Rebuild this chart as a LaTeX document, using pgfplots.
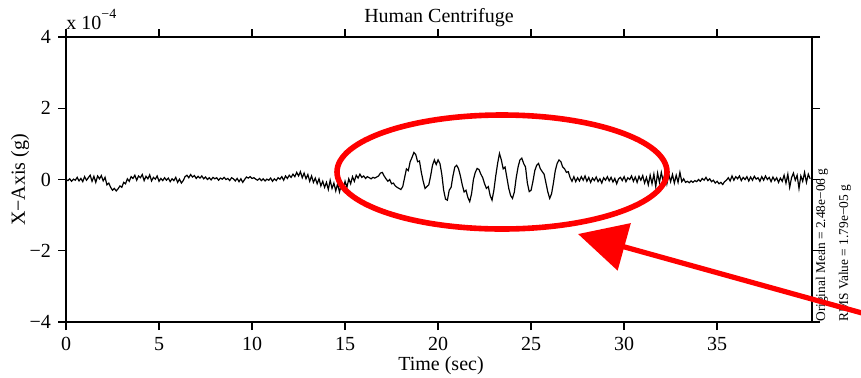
\documentclass[border=0pt]{standalone}
\usepackage{fontspec}
\setmainfont{Liberation Serif}
\usepackage{pgfplots}
\pgfplotsset{compat=1.18}
\usetikzlibrary{arrows.meta}
\begin{document}
\begin{tikzpicture}
\begin{axis}[
 at={(0,0)}, anchor=south west,
 scale only axis, width=373pt, height=142.5pt,
 xmin=0, xmax=40.1, ymin=-4, ymax=4,
 xtick={0,5,...,35}, xticklabels={0,5,10,15,20,25,30,35},
 ytick={-4,-2,0,2,4}, yticklabels={−4,−2,0,2,4},
 minor tick num=0,
 tick align=outside, major tick length=4pt,
 axis line style={line width=0.7pt},
 every tick/.style={line width=0.7pt, black},
 tick label style={font=\fontsize{10}{12}\selectfont},
 clip=false,
]
\addplot[black, line width=0.6pt] coordinates {
(0.0,0.00)(0.1,-0.03)(0.2,0.02)(0.3,-0.05)(0.4,0.01)(0.5,-0.02)(0.6,0.06)(0.7,-0.04)(0.8,0.03)(0.9,-0.06)
(1.0,0.08)(1.1,-0.02)(1.2,0.05)(1.3,0.12)(1.4,-0.05)(1.5,0.09)(1.6,-0.08)(1.7,0.10)(1.8,0.02)(1.9,0.11)
(2.0,-0.04)(2.1,0.06)(2.2,-0.15)(2.3,-0.10)(2.4,-0.22)(2.5,-0.30)(2.6,-0.25)(2.7,-0.32)(2.8,-0.26)(2.9,-0.18)
(3.0,-0.22)(3.1,-0.08)(3.2,-0.12)(3.3,0.02)(3.4,-0.05)(3.5,0.08)(3.6,0.03)(3.7,0.12)(3.8,-0.02)(3.9,0.10)
(4.0,0.05)(4.1,0.14)(4.2,-0.03)(4.3,0.09)(4.4,0.02)(4.5,0.13)(4.6,-0.04)(4.7,0.06)(4.8,0.01)(4.9,0.10)
(5.0,-0.05)(5.1,0.03)(5.2,-0.03)(5.3,0.05)(5.4,-0.02)(5.5,0.04)(5.6,-0.06)(5.7,0.02)(5.8,-0.03)(5.9,0.06)
(6.0,-0.08)(6.1,0.01)(6.2,-0.10)(6.3,-0.03)(6.4,0.08)(6.5,0.12)(6.6,0.05)(6.7,0.14)(6.8,0.07)(6.9,0.11)
(7.0,0.03)(7.1,0.09)(7.2,0.04)(7.3,0.10)(7.4,0.02)(7.5,0.07)(7.6,0.00)(7.7,0.05)(7.8,-0.01)(7.9,0.06)
(8.0,0.02)(8.1,0.05)(8.2,-0.02)(8.3,0.04)(8.4,0.01)(8.5,0.06)(8.6,0.00)(8.7,0.03)(8.8,-0.03)(8.9,0.05)
(9.0,0.02)(9.1,-0.04)(9.2,0.03)(9.3,-0.06)(9.4,0.02)(9.5,-0.08)(9.6,0.00)(9.7,0.07)(9.8,0.04)(9.9,0.08)
(10.0,0.03)(10.1,0.05)(10.2,0.01)(10.3,-0.02)(10.4,0.03)(10.5,-0.03)(10.6,0.02)(10.7,-0.04)(10.8,0.01)(10.9,-0.02)
(11.0,0.04)(11.1,-0.05)(11.2,0.02)(11.3,-0.03)(11.4,0.05)(11.5,0.01)(11.6,0.08)(11.7,-0.02)(11.8,0.10)(11.9,0.03)
(12.0,0.12)(12.1,0.06)(12.2,0.15)(12.3,0.08)(12.4,0.20)(12.5,0.10)(12.6,0.22)(12.7,0.05)(12.8,0.18)(12.9,0.02)
(13.0,0.14)(13.1,-0.05)(13.2,0.10)(13.3,-0.08)(13.4,0.04)(13.5,-0.12)(13.6,0.02)(13.7,-0.18)(13.8,-0.05)(13.9,-0.22)
(14.0,-0.08)(14.1,-0.28)(14.2,-0.02)(14.3,-0.25)(14.4,-0.10)(14.5,-0.32)(14.6,-0.12)(14.7,-0.35)(14.8,-0.15)(14.9,-0.30)
(15.0,-0.05)(15.1,-0.22)(15.2,0.02)(15.3,-0.12)(15.4,0.08)(15.5,-0.05)(15.6,0.12)(15.7,0.04)(15.8,0.15)(15.9,0.06)
(16.0,0.10)(16.1,0.03)(16.2,0.08)(16.3,0.05)(16.4,0.02)(16.5,0.06)(16.6,0.04)(16.7,0.07)(16.8,0.10)(16.9,0.18)
(17.0,0.20)(17.1,0.10)(17.2,0.02)(17.3,-0.05)(17.4,0.00)(17.5,-0.12)(17.6,-0.10)(17.7,-0.18)(17.8,-0.22)(17.9,-0.25)
(18.0,-0.28)(18.1,-0.20)(18.2,0.05)(18.3,0.30)(18.4,0.25)(18.5,0.50)(18.6,0.62)(18.7,0.76)(18.8,0.70)(18.9,0.50)
(19.0,0.52)(19.1,0.20)(19.2,-0.05)(19.3,-0.25)(19.4,-0.20)(19.5,-0.15)(19.6,0.10)(19.7,0.40)(19.8,0.55)(19.9,0.42)
(20.0,0.55)(20.1,0.45)(20.2,0.15)(20.3,-0.30)(20.4,-0.55)(20.5,-0.58)(20.6,-0.30)(20.7,-0.22)(20.8,0.10)(20.9,0.35)
(21.0,0.40)(21.1,0.30)(21.2,0.10)(21.3,-0.15)(21.4,-0.35)(21.5,-0.30)(21.6,-0.50)(21.7,-0.62)(21.8,-0.40)(21.9,0.00)
(22.0,0.20)(22.1,0.31)(22.2,0.28)(22.3,0.15)(22.4,0.05)(22.5,-0.12)(22.6,-0.25)(22.7,-0.20)(22.8,-0.45)(22.9,-0.58)
(23.0,-0.30)(23.1,0.10)(23.2,0.45)(23.3,0.73)(23.4,0.55)(23.5,0.30)(23.6,0.35)(23.7,0.05)(23.8,-0.25)(23.9,-0.45)
(24.0,-0.53)(24.1,-0.35)(24.2,0.05)(24.3,0.35)(24.4,0.55)(24.5,0.60)(24.6,0.45)(24.7,0.35)(24.8,-0.10)(24.9,-0.34)
(25.0,-0.30)(25.1,-0.05)(25.2,0.25)(25.3,0.40)(25.4,0.45)(25.5,0.30)(25.6,0.22)(25.7,0.15)(25.8,-0.10)(25.9,-0.35)
(26.0,-0.53)(26.1,-0.40)(26.2,-0.10)(26.3,0.25)(26.4,0.45)(26.5,0.55)(26.6,0.50)(26.7,0.35)(26.8,0.30)(26.9,0.20)
(27.0,0.22)(27.1,0.05)(27.2,-0.05)(27.3,0.08)(27.4,-0.06)(27.5,0.05)(27.6,-0.04)(27.7,0.08)(27.8,-0.02)(27.9,0.10)
(28.0,-0.05)(28.1,0.06)(28.2,-0.08)(28.3,0.04)(28.4,-0.03)(28.5,0.07)(28.6,-0.06)(28.7,0.02)(28.8,-0.10)(28.9,0.05)
(29.0,-0.02)(29.1,0.08)(29.2,-0.04)(29.3,0.06)(29.4,-0.07)(29.5,0.03)(29.6,-0.12)(29.7,0.02)(29.8,0.06)(29.9,-0.03)
(30.0,0.08)(30.1,-0.06)(30.2,0.05)(30.3,0.00)(30.4,0.10)(30.5,-0.05)(30.6,0.07)(30.7,-0.08)(30.8,0.09)(30.9,-0.02)
(31.0,0.11)(31.1,-0.10)(31.2,0.06)(31.3,-0.15)(31.4,0.12)(31.5,-0.12)(31.6,0.15)(31.7,-0.20)(31.8,0.18)(31.9,-0.08)
(32.0,0.20)(32.1,-0.05)(32.2,0.18)(32.3,-0.12)(32.4,0.15)(32.5,-0.06)(32.6,0.14)(32.7,-0.10)(32.8,0.12)(32.9,-0.08)
(33.0,0.20)(33.1,-0.06)(33.2,0.02)(33.3,-0.08)(33.4,-0.05)(33.5,-0.09)(33.6,-0.04)(33.7,-0.08)(33.8,-0.03)(33.9,-0.06)
(34.0,0.00)(34.1,-0.05)(34.2,0.03)(34.3,-0.02)(34.4,0.06)(34.5,-0.03)(34.6,0.02)(34.7,-0.06)(34.8,-0.02)(34.9,-0.10)
(35.0,-0.05)(35.1,-0.12)(35.2,-0.08)(35.3,-0.14)(35.4,-0.06)(35.5,-0.02)(35.6,0.05)(35.7,-0.04)(35.8,0.10)(35.9,-0.02)
(36.0,0.08)(36.1,0.02)(36.2,0.10)(36.3,-0.03)(36.4,0.06)(36.5,0.00)(36.6,0.08)(36.7,-0.04)(36.8,0.07)(36.9,-0.02)
(37.0,0.09)(37.1,0.01)(37.2,0.05)(37.3,-0.05)(37.4,0.08)(37.5,-0.02)(37.6,0.10)(37.7,0.00)(37.8,0.06)(37.9,-0.06)
(38.0,0.07)(38.1,-0.03)(38.2,0.05)(38.3,-0.08)(38.4,0.04)(38.5,-0.05)(38.6,0.12)(38.7,-0.10)(38.8,0.15)(38.9,-0.22)
(39.0,0.05)(39.1,0.18)(39.2,-0.02)(39.3,0.12)(39.4,-0.25)(39.5,0.10)(39.6,-0.05)(39.7,0.20)(39.8,-0.08)(39.9,0.15)
(40.0,0.02)
};
\end{axis}
\node at (186.5pt,152pt) {\fontsize{10}{12}\selectfont Human Centrifuge};
\node[rotate=90] at (-23pt,71pt) {\fontsize{10}{12}\selectfont X−Axis (g)};
\node at (187.5pt,-22pt) {\fontsize{10}{12}\selectfont Time (sec)};
\node[anchor=base west, inner sep=0pt] at (0pt,146.5pt) {\fontsize{10}{12}\selectfont x 10\raisebox{5.5pt}{\fontsize{7}{7}\selectfont −4}};
\node[rotate=90, anchor=base west, inner sep=0pt] at (379.5pt,0pt) {\fontsize{6.7}{8}\selectfont Original Mean = 2.48e−06 g};
\node[rotate=90, anchor=base west, inner sep=0pt] at (391pt,0pt) {\fontsize{6.7}{8}\selectfont RMS Value = 1.79e−05 g};
\draw[red, line width=2.8pt] (218pt,75pt) ellipse [x radius=82.5pt, y radius=28.5pt];
\draw[red, line width=2.6pt, -{Triangle[length=24pt,width=24pt]}] (398pt,4.5pt) -- (256pt,44pt);
\pgfresetboundingbox
\path[use as bounding box] (-33pt,-27.5pt) rectangle (397.5pt,161pt);
\end{tikzpicture}
\end{document}
